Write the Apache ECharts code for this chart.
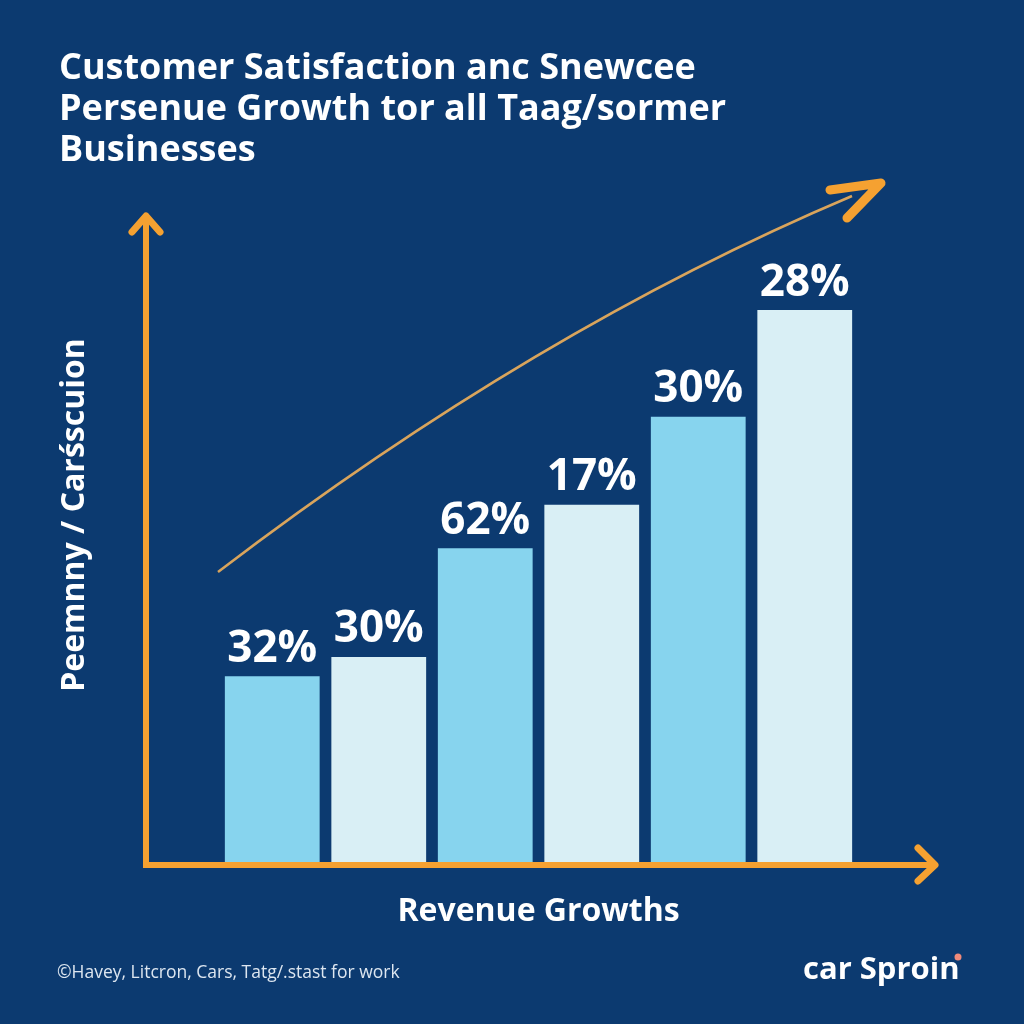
<!DOCTYPE html>
<html>
<head>
<meta charset="utf-8">
<script src="https://cdn.jsdelivr.net/npm/echarts@6/dist/echarts.min.js"></script>
<style>
html,body{margin:0;padding:0;background:#0c3a70;}
#chart{width:1024px;height:1024px;}
</style>
</head>
<body>
<div id="chart"></div>
<script>
// ---- data ----
const categories = ['A', 'B', 'C', 'D', 'E', 'F'];
const barValues = [28.7, 31.7, 48.5, 55.2, 68.8, 85.3];      // bar heights, % of axis height
const barLabels = ['32%', '30%', '62%', '17%', '30%', '28%'];   // printed labels
const barColors = ['#87d4ee', '#d9eff5'];

const titleText = 'Customer Satisfaction anc Snewcee\nPersenue Growth tor all Taag/sormer\nBusinesses';
const yTitle = 'Peemnny / Carśscuion';
const xTitle = 'Revenue Growths';
const footer = '©Havey, Litcron, Cars, Tatg/.stast for work';
const logo = 'car Sproin';

const ORANGE = '#f5a131';
const chart = echarts.init(document.getElementById('chart'), null, {renderer: 'canvas'});

const option = {
  backgroundColor: '#0c3a70',
  animation: false,
  title: {
    text: titleText,
    left: 54, top: 43,
    textStyle: {color: '#ffffff', fontFamily: 'Open Sans', fontWeight: 'bold', fontSize: 36, lineHeight: 41}
  },
  grid: {left: 219, right: 166, top: 215, bottom: 162},
  xAxis: {
    type: 'category', data: categories,
    axisLine: {show: false}, axisTick: {show: false}, axisLabel: {show: false},
    name: xTitle, nameLocation: 'middle', nameGap: 34,
    nameTextStyle: {color: '#ffffff', fontFamily: 'Open Sans', fontWeight: 'bold', fontSize: 32}
  },
  yAxis: {
    type: 'value', min: 0, max: 100,
    axisLine: {show: false}, axisTick: {show: false}, axisLabel: {show: false}, splitLine: {show: false}
  },
  series: [{
    type: 'bar',
    barCategoryGap: '11%',
    data: barValues.map((v, i) => ({value: v, itemStyle: {color: barColors[i % 2]}})),
    label: {
      show: true, position: 'top', distance: 5,
      formatter: p => barLabels[p.dataIndex],
      color: '#ffffff', fontFamily: 'Open Sans', fontWeight: 'bold', fontSize: 44
    }
  }],
  graphic: [
    // y axis title
    {type: 'text', x: 75, y: 515, rotation: Math.PI / 2,
     style: {text: yTitle, fill: '#ffffff', font: 'bold 32px "Open Sans"', align: 'center', verticalAlign: 'middle'}},
    // axes
    {type: 'polyline', shape: {points: [[146, 218], [146, 865], [934, 865]]},
     style: {stroke: ORANGE, lineWidth: 6, fill: null, lineJoin: 'miter', lineCap: 'round'}},
    {type: 'polyline', shape: {points: [[132, 232], [146, 216], [160, 232]]},
     style: {stroke: ORANGE, lineWidth: 7, fill: null, lineJoin: 'round', lineCap: 'round'}},
    {type: 'polyline', shape: {points: [[918, 848], [935, 865], [918, 881]]},
     style: {stroke: ORANGE, lineWidth: 7, fill: null, lineJoin: 'round', lineCap: 'round'}},
    // trend curve
    {type: 'bezierCurve', shape: {x1: 218, y1: 572, cpx1: 535, cpy1: 330, x2: 852, y2: 196},
     style: {stroke: '#d9a45c', lineWidth: 2.5, fill: null}},
    {type: 'polyline', shape: {points: [[830, 190], [881, 183], [847, 218]]},
     style: {stroke: ORANGE, lineWidth: 9, fill: null, lineJoin: 'round', lineCap: 'round'}},
    // footer
    {type: 'text', x: 57, y: 973,
     style: {text: footer, fill: '#dde6f0', font: '17.5px "Open Sans"', verticalAlign: 'middle'}},
    // logo
    {type: 'text', x: 803, y: 970,
     style: {text: logo, fill: '#ffffff', font: 'bold 31px "Open Sans"', verticalAlign: 'middle'}},
    {type: 'circle', shape: {cx: 958, cy: 957, r: 3.5}, style: {fill: '#f08a7a'}}
  ]
};
chart.setOption(option);
</script>
</body>
</html>
